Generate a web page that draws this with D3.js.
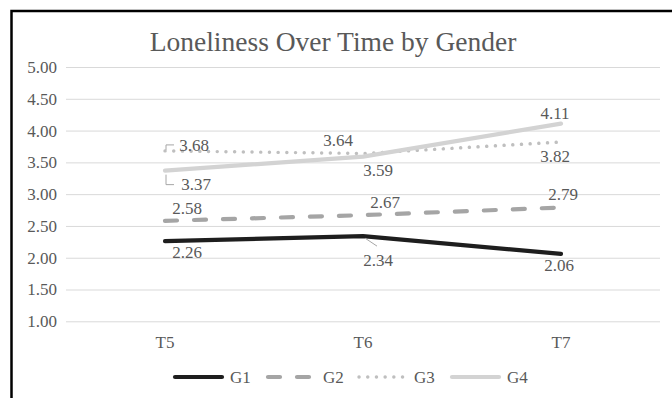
<!DOCTYPE html>
<html><head><meta charset="utf-8">
<script src="https://cdn.jsdelivr.net/npm/d3@7"></script>
<style>body{margin:0;background:#fff}svg{display:block}text{font-family:"Liberation Serif","Times New Roman",serif}</style>
</head><body>
<script>
const categories = ["T5", "T6", "T7"];
const seriesNames = ["G1", "G2", "G3", "G4"];
const g1 = [2.26, 2.34, 2.06];
const g2 = [2.58, 2.67, 2.79];
const g3 = [3.68, 3.64, 3.82];
const g4 = [3.37, 3.59, 4.11];
const yTicks = [1.00, 1.50, 2.00, 2.50, 3.00, 3.50, 4.00, 4.50, 5.00];
const title = "Loneliness Over Time by Gender";

const W = 672, H = 398;
const svg = d3.select("body").append("svg").attr("width", W).attr("height", H);
svg.append("rect").attr("width", W).attr("height", H).attr("fill", "#fff");

const x = d3.scaleBand().domain(categories).range([66, 660]).padding(0);
const cx = c => x(c) + x.bandwidth() / 2;
const y = d3.scaleLinear().domain([1, 5]).range([321.3, 67]);

const txtCol = "#595959";
const fs = 17;

// gridlines + y axis
const yAxis = d3.axisLeft(y).tickValues(yTicks).tickFormat(d3.format(".2f")).tickSize(-(660 - 66)).tickPadding(9);
const ga = svg.append("g").attr("transform", "translate(66,0)").call(yAxis);
ga.select(".domain").remove();
ga.selectAll(".tick line").attr("stroke", "#d9d9d9").attr("stroke-width", 1);
ga.selectAll(".tick text").attr("fill", txtCol).attr("font-size", fs).style("font-family", "'Liberation Serif',serif");

// x axis labels
const xAxis = d3.axisBottom(x).tickSize(0).tickPadding(0);
const gx = svg.append("g").attr("transform", "translate(0,334)").call(xAxis);
gx.select(".domain").remove();
gx.selectAll(".tick text").attr("fill", txtCol).attr("font-size", fs).attr("dy", 0).attr("dominant-baseline", "central").attr("y", 8).style("font-family", "'Liberation Serif',serif");

// title
svg.append("text").attr("x", 333).attr("y", 41).attr("text-anchor", "middle").attr("dominant-baseline", "central")
  .attr("font-size", 27.5).attr("fill", txtCol).text(title);

const series = [
  { name: seriesNames[0], values: g1, color: "#1e1e1e", width: 4.2, dash: null, cap: "round" },
  { name: seriesNames[1], values: g2, color: "#a5a5a5", width: 4.2, dash: "12,17", cap: "round" },
  { name: seriesNames[2], values: g3, color: "#bfbfbf", width: 3.4, dash: "0.1,8.6", cap: "round" },
  { name: seriesNames[3], values: g4, color: "#d3d3d3", width: 4.2, dash: null, cap: "round" }
];

const line = d3.line().x((d, i) => cx(categories[i])).y(d => y(d));
series.forEach(s => {
  svg.append("path").datum(s.values).attr("d", line).attr("fill", "none")
    .attr("stroke", s.color).attr("stroke-width", s.width)
    .attr("stroke-linecap", s.cap).attr("stroke-linejoin", "round")
    .attr("stroke-dasharray", s.dash);
});

// data label offsets (dx, dy of text center from the point)
const labelOffsets = [
  [[22, 11.5], [15, 24], [-2, 12]],
  [[22, -12], [22, -13], [2, -13]],
  [[29, -5], [-25, -13], [-6, 14]],
  [[31, 14], [15, 14], [-6, -10]]
];
const leaderCol = "#a6a6a6";
series.forEach((s, si) => {
  s.values.forEach((v, i) => {
    const px = cx(categories[i]), py = y(v);
    const [dx, dy] = labelOffsets[si][i];
    svg.append("text").attr("x", px + dx).attr("y", py + dy)
      .attr("text-anchor", "middle").attr("dominant-baseline", "central")
      .attr("font-size", fs).attr("fill", txtCol).text(v.toFixed(2));
  });
});
// leader lines
{
  const p = [cx("T6"), y(g1[1])];
  svg.append("line").attr("x1", p[0] + 2).attr("y1", p[1] + 2).attr("x2", p[0] + 14).attr("y2", p[1] + 10)
    .attr("stroke", leaderCol).attr("stroke-width", 1);
  const a = [cx("T5"), y(g3[0])];
  svg.append("path").attr("d", `M${a[0] + 1},${a[1] - 1}V${a[1] - 6}H${a[0] + 9}`).attr("fill", "none").attr("stroke", leaderCol).attr("stroke-width", 1);
  const b = [cx("T5"), y(g4[0])];
  svg.append("path").attr("d", `M${b[0] + 1},${b[1] + 4}V${b[1] + 14}H${b[0] + 9}`).attr("fill", "none").attr("stroke", leaderCol).attr("stroke-width", 1);
}

// legend
const legendX = [173, 266, 357, 450];
const lg = svg.append("g");
series.forEach((s, i) => {
  const lx = legendX[i], ly = 377;
  lg.append("line").attr("x1", lx + 2).attr("x2", lx + 49).attr("y1", ly).attr("y2", ly)
    .attr("stroke", s.color).attr("stroke-width", s.width)
    .attr("stroke-linecap", s.cap).attr("stroke-dasharray", s.dash);
  lg.append("text").attr("x", lx + 57).attr("y", ly).attr("dominant-baseline", "central")
    .attr("font-size", fs).attr("fill", txtCol).text(s.name);
});

// outer frame
svg.append("rect").attr("x", 11.5).attr("y", 11).attr("width", W + 20).attr("height", H + 20)
  .attr("fill", "none").attr("stroke", "#000").attr("stroke-width", 2.5);
</script>
</body></html>
